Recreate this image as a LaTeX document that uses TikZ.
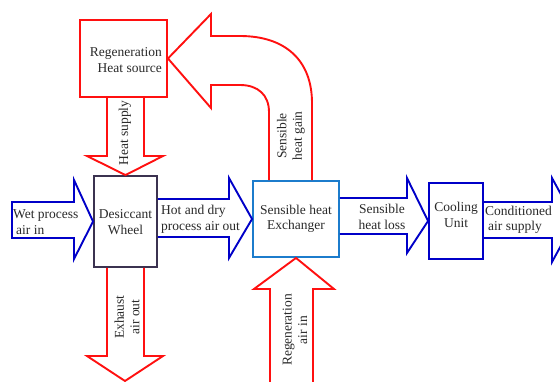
\documentclass[tikz,border=0pt]{standalone}
\usepackage{fontspec}
\setmainfont{Liberation Serif}
\definecolor{rd}{HTML}{FF1010}
\definecolor{bl}{HTML}{0000C8}
\definecolor{lb}{HTML}{1C7CCC}
\definecolor{dk}{HTML}{3B3250}
\definecolor{tx}{HTML}{2A2A2A}
\begin{document}
\begin{tikzpicture}[x=1pt,y=-1pt,
  every node/.style={font=\fontsize{13.5}{15.5}\selectfont, text=tx, inner sep=0pt},
  box/.style={draw, line width=1.9pt, minimum width=#1},
  rarrow/.style={draw=rd, line width=1.9pt, line join=miter},
  barrow/.style={draw=bl, line width=1.9pt, line join=miter}]
\clip (0,0) rectangle (560,381);
\fill[white] (0,0) rectangle (560,381);
% boxes
\node[box=87pt, draw=rd, minimum height=77pt] (rhs) at (123.5,58.5) {};
\node[box=63pt, draw=dk, minimum height=91pt] (dw) at (125.5,221.5) {};
\node[box=86pt, draw=lb, minimum height=76pt] (hx) at (296,219) {};
\node[box=54pt, draw=bl, minimum height=76pt] (cu) at (456,221) {};
% arrows
\draw[barrow] (12,202) -- (74,202) -- (74,180) -- (dw.west) -- (74,259) -- (74,238) -- (12,238) -- cycle;
\draw[barrow] (dw.east |- 0,199) -- (229,199) -- (229,178) -- (hx.west) -- (229,258) -- (229,237) -- (dw.east |- 0,237);
\draw[barrow] (hx.east |- 0,198) -- (407,198) -- (407,178) -- (cu.west) -- (407,253) -- (407,234) -- (hx.east |- 0,234);
\draw[barrow] (cu.east |- 0,202) -- (552,202) -- (552,178) -- (575,220) -- (552,262) -- (552,238) -- (cu.east |- 0,238);
\draw[rarrow] (rhs.south -| 107,0) -- (107,156) -- (87,156) -- (dw.north) -- (163,156) -- (144,156) -- (rhs.south -| 144,0);
\draw[rarrow] (dw.south -| 107,0) -- (107,356) -- (87,356) -- (125,381) -- (163,356) -- (144,356) -- (dw.south -| 144,0);
\draw[rarrow] (270,395) -- (270,289) -- (254,289) -- (hx.south) -- (334,289) -- (313,289) -- (313,395);
\draw[rarrow] (hx.north -| 269,0) -- (269,112) .. controls (269,95) and (258,85) .. (240,85) -- (211,85) -- (211,108) -- (rhs.east) -- (211,14) -- (211,36) -- (240,36) .. controls (285,36) and (312,60) .. (312,103) -- (hx.north -| 312,0);
% texts
\node[align=right, anchor=east] (t1) at (162,60) {Regeneration\\Heat source};
\node[rotate=90] (t2) at (125,133) {Heat supply};
\node[align=center] (t3) at (125.5,222) {Desiccant\\Wheel};
\node[align=left, anchor=west] (t4) at (13,222) {Wet process\\\hspace{3pt}air in};
\node[align=left, anchor=west] (t5) at (161,219) {Hot and dry\\process air out};
\node[align=center] (t6) at (296,219) {Sensible heat\\Exchanger};
\node[align=center] (t7) at (382,217) {Sensible\\heat loss};
\node[align=center] (t8) at (456,215) {Cooling\\Unit};
\node[align=left, anchor=west] (t9) at (485,220) {Conditioned\\\hspace{3pt}air supply};
\node[rotate=90, align=center] (t10) at (127,317) {Exhaust\\air out};
\node[rotate=90, align=center] (t11) at (295,330) {Regeneration\\air in};
\node[rotate=90, align=center] (t12) at (291,136) {Sensible\\heat gain};
\end{tikzpicture}
\end{document}
